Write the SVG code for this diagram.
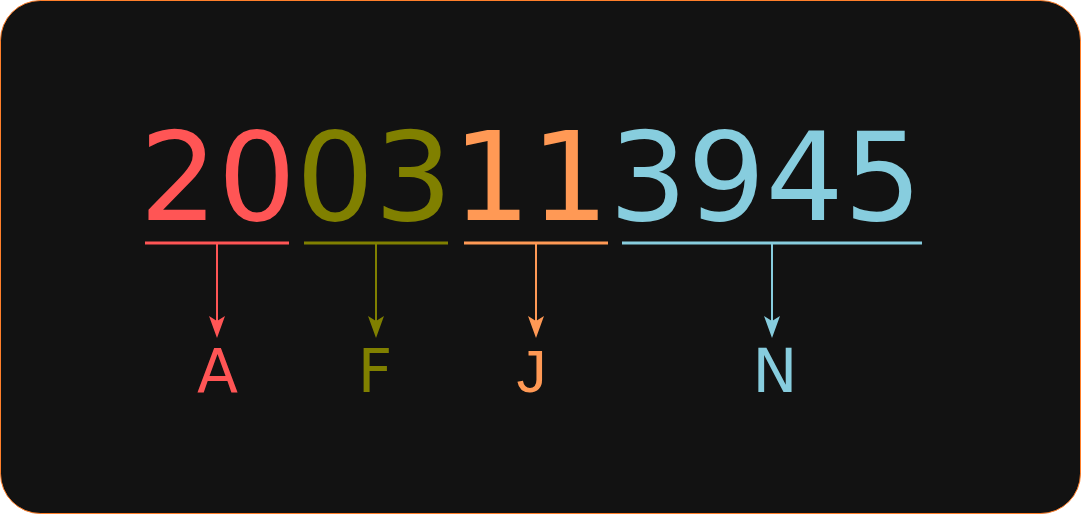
<svg xmlns="http://www.w3.org/2000/svg" width="1081" height="514" viewBox="0 0 1081 514">
<defs>
<style>
.num{font-family:"DejaVu Sans",sans-serif;font-size:123px;}
.lbl{font-family:"DejaVu Sans",sans-serif;font-size:60px;text-anchor:middle;}
.ul{stroke-width:3;fill:none;}
.ar{stroke-width:2;fill:none;}
</style>
</defs>
<rect x="0.5" y="0.5" width="1080" height="513" rx="40" ry="40" fill="#121212" stroke="#ff7f2a" stroke-width="1"/>
<g id="number">
<text class="num" x="139.5" y="220"><tspan fill="#ff5555">20</tspan><tspan fill="#808000">03</tspan><tspan fill="#ff9955">11</tspan><tspan fill="#87cdde">3945</tspan></text>
</g>
<g id="connectors">
<line class="ul" x1="145" y1="243" x2="289" y2="243" stroke="#ff5555"/>
<line class="ul" x1="304" y1="243" x2="448" y2="243" stroke="#808000"/>
<line class="ul" x1="464" y1="243" x2="608" y2="243" stroke="#ff9955"/>
<line class="ul" x1="622" y1="243" x2="922" y2="243" stroke="#87cdde"/>
<line class="ar" x1="217" y1="243" x2="217" y2="322" stroke="#ff5555"/>
<path d="M209,316 L217,338 L225,316 L217,321 Z" fill="#ff5555"/>
<line class="ar" x1="376" y1="243" x2="376" y2="322" stroke="#808000"/>
<path d="M368,316 L376,338 L384,316 L376,321 Z" fill="#808000"/>
<line class="ar" x1="536" y1="243" x2="536" y2="322" stroke="#ff9955"/>
<path d="M528,316 L536,338 L544,316 L536,321 Z" fill="#ff9955"/>
<line class="ar" x1="772" y1="243" x2="772" y2="322" stroke="#87cdde"/>
<path d="M764,316 L772,338 L780,316 L772,321 Z" fill="#87cdde"/>
</g>
<g id="label-A"><text class="lbl" x="217.5" y="392" fill="#ff5555">A</text></g>
<g id="label-F"><text class="lbl" x="375" y="392" fill="#808000">F</text></g>
<g id="label-J"><text class="lbl" x="531.5" y="392" fill="#ff9955" style="font-family:'Liberation Sans',sans-serif">J</text></g>
<g id="label-N"><text class="lbl" x="775" y="392" fill="#87cdde">N</text></g>
</svg>
